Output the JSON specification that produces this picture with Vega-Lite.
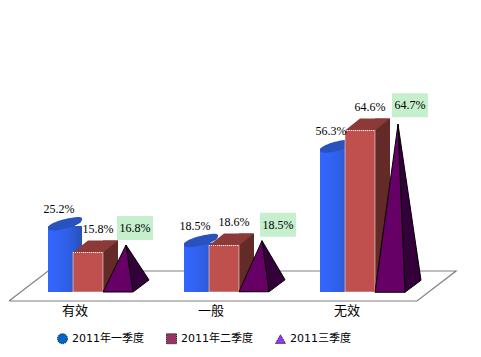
{
"$schema":"https://vega.github.io/schema/vega-lite/v6.json",
"width":408,"height":250,"autosize":"none",
"padding":{"left":9,"top":51,"right":64,"bottom":56},
"background":"white",
"config":{"view":{"stroke":null}},
"datasets":{
"floor":[{"order":1,"across":0,"level":-3.6},{"order":2,"across":0.287,"level":8.4},{"order":3,"across":3.287,"level":8.4},{"order":4,"across":3,"level":-3.6},{"order":5,"across":0,"level":-3.6}],
"results":[
{"category":"有效","series":"2011年一季度","value":25.2,"label":"25.2%"},
{"category":"一般","series":"2011年一季度","value":18.5,"label":"18.5%"},
{"category":"无效","series":"2011年一季度","value":56.3,"label":"56.3%"},
{"category":"有效","series":"2011年二季度","value":15.8,"label":"15.8%"},
{"category":"一般","series":"2011年二季度","value":18.6,"label":"18.6%"},
{"category":"无效","series":"2011年二季度","value":64.6,"label":"64.6%"},
{"category":"有效","series":"2011三季度","value":16.8,"label":"16.8%"},
{"category":"一般","series":"2011三季度","value":18.5,"label":"18.5%"},
{"category":"无效","series":"2011三季度","value":64.7,"label":"64.7%"}
]},
"resolve":{"scale":{"x":"independent"}},
"layer":[
{"data":{"name":"floor"},"mark":{"type":"line","color":"#808080","strokeWidth":1.2},
 "encoding":{"x":{"field":"across","type":"quantitative","scale":{"domain":[0,3],"nice":false,"zero":false},"axis":null},
 "y":{"field":"level","type":"quantitative","scale":{"domain":[-3.6,96.4],"nice":false,"zero":false},"axis":null},"order":{"field":"order"}}},
{"data":{"name":"results"},
 "encoding":{"x":{"field":"category","type":"nominal","sort":["有效","一般","无效"],"scale":{"paddingInner":0,"paddingOuter":0},
   "axis":{"title":null,"domain":false,"ticks":false,"labelAngle":0,"labelFontSize":13,"labelFont":"Noto Sans CJK SC","labelColor":"#000","labelPadding":3,"labelOffset":-2}},
  "y":{"field":"value","type":"quantitative","scale":{"domain":[-3.6,96.4],"nice":false,"zero":false},"axis":null}},
 "layer":[
 {"transform":[{"filter":"datum.series=='2011年一季度'"}],"layer":[
  {"mark":{"type":"point","shape":"M-17,-3C-17,1,17,1,17,-3Z","size":4,"filled":true,"opacity":1,"xOffset":-12,"color":"#3060e0"},
   "encoding":{"y":{"datum":0,"type":"quantitative"}}},
  {"mark":{"type":"bar","size":34,"xOffset":-12,"yOffset":-3,"color":{"gradient":"linear","x1":0,"x2":1,"y1":0,"y2":0,"stops":[{"offset":0,"color":"#3366ff"},{"offset":0.55,"color":"#3060e8"},{"offset":1,"color":"#2850b8"}]}},
   "encoding":{"y2":{"datum":0}}},
  {"mark":{"type":"point","shape":"M-17,0C-17,-6,6,-11,14,-11C19,-11,17,-7,15,-5C8,0,-17,6,-17,0Z","size":4,"filled":true,"opacity":1,"xOffset":-12,"yOffset":-1,"color":"#2a52be"}}
 ]},
 {"transform":[{"filter":"datum.series=='2011年二季度'"}],"layer":[
  {"mark":{"type":"bar","size":15,"xOffset":33.5,"yOffset":-12,"color":"#632a27"},"encoding":{"y2":{"datum":0}}},
  {"mark":{"type":"point","shape":"M-7.5,0L7.5,-12L-7.5,-12Z","size":4,"filled":true,"opacity":1,"xOffset":33.5,"color":"#632a27"},"encoding":{"y":{"datum":0,"type":"quantitative"}}},
  {"mark":{"type":"point","shape":"M-15,0L0,-12L30,-12L15,0Z","size":4,"filled":true,"opacity":1,"xOffset":11,"color":"#8c3a38"}},
  {"mark":{"type":"bar","size":30,"xOffset":11,"color":"#c0504d","stroke":"#ffffff","strokeDash":[1,1],"strokeWidth":1},"encoding":{"y2":{"datum":0}}}
 ]},
 {"transform":[{"filter":"datum.series=='2011三季度'"}],"layer":[
  {"transform":[{"filter":"datum.category=='有效'"}],"layer":[
   {"mark":{"type":"point","shape":"M7,47L23,35L0,0Z","size":4,"filled":true,"opacity":1,"xOffset":49,"yOffset":-5,"fill":"#33003a","stroke":"#000","strokeWidth":1}},
   {"mark":{"type":"point","shape":"M-23,47L7,47L0,0Z","size":4,"filled":true,"opacity":1,"xOffset":49,"yOffset":-5,"fill":"#660066","stroke":"#000","strokeWidth":1}},
   {"mark":{"type":"point","size":4,"filled":true,"opacity":1,"xOffset":58,"yOffset":-22,"color":"#c6efce","shape":"M-18,-12L18,-12L18,12L-18,12Z"}},
   {"mark":{"type":"text","font":"Liberation Serif","fontSize":12,"dx":58,"dy":-22,"color":"#000"},"encoding":{"text":{"field":"label"}}}
  ]},
  {"transform":[{"filter":"datum.category=='一般'"}],"layer":[
   {"mark":{"type":"point","shape":"M7,51L23,39L0,0Z","size":4,"filled":true,"opacity":1,"xOffset":49,"yOffset":-5,"fill":"#33003a","stroke":"#000","strokeWidth":1}},
   {"mark":{"type":"point","shape":"M-23,51L7,51L0,0Z","size":4,"filled":true,"opacity":1,"xOffset":49,"yOffset":-5,"fill":"#660066","stroke":"#000","strokeWidth":1}},
   {"mark":{"type":"point","size":4,"filled":true,"opacity":1,"xOffset":65,"yOffset":-21,"color":"#c6efce","shape":"M-18,-12L18,-12L18,12L-18,12Z"}},
   {"mark":{"type":"text","font":"Liberation Serif","fontSize":12,"dx":65,"dy":-21,"color":"#000"},"encoding":{"text":{"field":"label"}}}
  ]},
  {"transform":[{"filter":"datum.category=='无效'"}],"layer":[
   {"mark":{"type":"point","shape":"M7,168L23,156L0,0Z","size":4,"filled":true,"opacity":1,"xOffset":49,"yOffset":-6,"fill":"#33003a","stroke":"#000","strokeWidth":1}},
   {"mark":{"type":"point","shape":"M-23,168L7,168L0,0Z","size":4,"filled":true,"opacity":1,"xOffset":49,"yOffset":-6,"fill":"#660066","stroke":"#000","strokeWidth":1}},
   {"mark":{"type":"point","size":4,"filled":true,"opacity":1,"xOffset":61,"yOffset":-25,"color":"#c6efce","shape":"M-18,-12L18,-12L18,12L-18,12Z"}},
   {"mark":{"type":"text","font":"Liberation Serif","fontSize":12,"dx":61,"dy":-25,"color":"#000"},"encoding":{"text":{"field":"label"}}}
  ]}
 ]},
 {"transform":[{"filter":"datum.series=='2011年一季度'"}],"mark":{"type":"text","font":"Liberation Serif","fontSize":12,"dx":-18,"dy":-20,"color":"#000"},"encoding":{"text":{"field":"label"}}},
 {"transform":[{"filter":"datum.series=='2011年二季度'"}],"mark":{"type":"text","font":"Liberation Serif","fontSize":12,"dx":21,"dy":-24,"color":"#000"},"encoding":{"text":{"field":"label"}}},
 {"mark":{"type":"point","size":0,"filled":true,"opacity":1},
  "encoding":{"color":{"field":"series","type":"nominal","scale":{"domain":["2011年一季度","2011年二季度","2011三季度"],"range":["#0066cc","#993366","#9933ff"]},
    "legend":{"title":null,"orient":"none","legendX":48,"legendY":282,"direction":"horizontal","columns":3,"columnPadding":20,"symbolStrokeColor":"#000","symbolStrokeWidth":1,"symbolDash":[1,1],"symbolSize":100,"labelFont":"DejaVu Sans, Noto Sans CJK SC","labelFontSize":11,"labelColor":"#000"}},
   "shape":{"field":"series","type":"nominal","scale":{"domain":["2011年一季度","2011年二季度","2011三季度"],"range":["circle","square","triangle-up"]},"legend":{"title":null}}}}
 ]}
]}
